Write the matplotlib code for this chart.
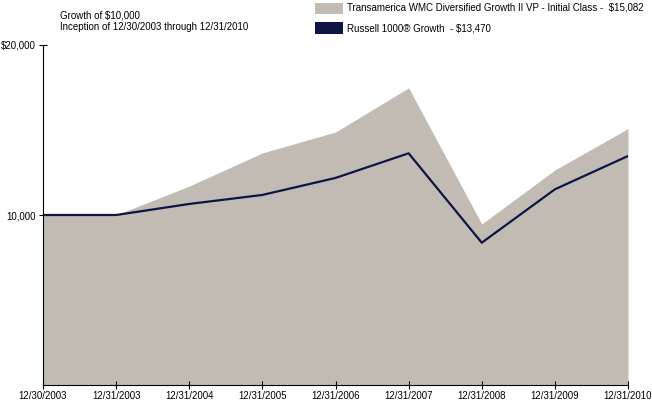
import numpy as np
import matplotlib.pyplot as plt
from matplotlib.patches import Rectangle

plt.rcParams['font.family'] = ['Liberation Sans', 'DejaVu Sans']

# data
dates = ["12/30/2003", "12/31/2003", "12/31/2004", "12/31/2005", "12/31/2006",
         "12/31/2007", "12/31/2008", "12/31/2009", "12/31/2010"]
fund = [10000, 10000, 11700, 13650, 14880, 17480, 9470, 12650, 15082]
russell = [10000, 10000, 10650, 11180, 12180, 13630, 8370, 11510, 13470]
fund_name = "Transamerica WMC Diversified Growth II VP - Initial Class -  $15,082"
russell_name = "Russell 1000\u00ae Growth  - $13,470"

fill_col = "#c1bbb4"
line_col = "#0e1545"

fig = plt.figure(figsize=(6.52, 4.01), dpi=100)
ax = fig.add_axes([43/652, 1 - 385/401, (628-43)/652, (385-45)/401])

x = np.arange(len(dates))
ax.fill_between(x, 0, fund, color=fill_col, linewidth=0)
ax.plot(x, russell, color=line_col, linewidth=1.6)

ax.set_xlim(0, len(dates) - 1)
ax.set_ylim(0, 20000)
ax.set_xticks(x)
ax.set_xticklabels(dates, fontsize=7)
ax.set_yticks([10000, 20000])
ax.set_yticklabels(["10,000", "$20,000"], fontsize=7)
ax.tick_params(axis='both', direction='inout', length=6, width=0.8, pad=1.5)
ax.tick_params(axis='y', pad=2.5)
for s in ['top', 'right']:
    ax.spines[s].set_visible(False)
for s in ['left', 'bottom']:
    ax.spines[s].set_linewidth(0.8)

# titles
fig.text(60/652, 1 - 18.5/401, "Growth of $10,000", fontsize=7)
fig.text(60/652, 1 - 29.5/401, "Inception of 12/30/2003 through 12/31/2010", fontsize=7)

# legend drawn by hand
W, H = 652, 401
fig.add_artist(Rectangle((315/W, 1 - 14/H), 28/W, 11/H, transform=fig.transFigure,
                         facecolor=fill_col, edgecolor='none'))
fig.add_artist(Rectangle((315/W, 1 - 34/H), 28/W, 12/H, transform=fig.transFigure,
                         facecolor=line_col, edgecolor='none'))
fig.text(347/W, 1 - 7.5/H, fund_name, fontsize=7, va='center')
fig.text(347/W, 1 - 28.5/H, russell_name, fontsize=7, va='center')

fig.savefig("out.png", dpi=100)
